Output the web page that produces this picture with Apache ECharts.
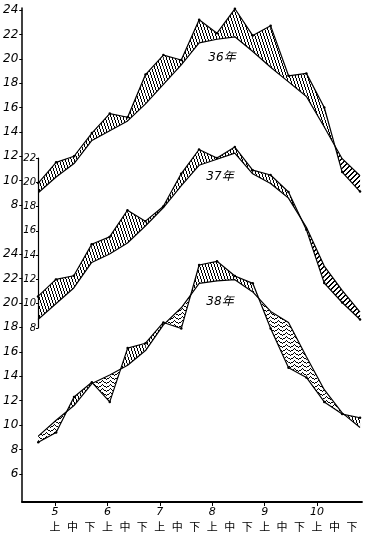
<!DOCTYPE html>
<html><head><meta charset="utf-8">
<script src="https://cdn.jsdelivr.net/npm/echarts@6/dist/echarts.min.js"></script>
<style>html,body{margin:0;padding:0;background:#fff}#c{width:367px;height:540px}</style>
</head><body><div id="c"></div>
<script>
// periods: 4月下旬 .. 10月下旬 (19 dekads)
const periods = ['4下','5上','5中','5下','6上','6中','6下','7上','7中','7下','8上','8中','8下','9上','9中','9下','10上','10中','10下'];
const monthLabels = ['5','6','7','8','9','10'];
const dekadLabels = ['上','中','下'];
const yearNames = ['36年','37年','38年'];

// 36年
const y36Year   = [9.8, 11.5, 12.0, 13.9, 15.5, 15.2, 18.7, 20.3, 19.9, 23.2, 22.1, 24.1, 21.9, 22.7, 18.6, 18.8, 16.0, 10.7, 9.1];
const y36Normal = [9.0, 10.3, 11.4, 13.3, 14.1, 14.9, 16.3, 17.9, 19.5, 21.3, 21.6, 21.8, 20.6, 19.3, 18.1, 16.9, 14.4, 11.8, 10.4];
// 37年
const y37Year   = [10.6, 12.0, 12.3, 14.9, 15.5, 17.7, 16.8, 18.0, 20.7, 22.7, 22.0, 22.9, 21.0, 20.6, 19.2, 16.1, 11.7, 10.1, 8.7];
const y37Normal = [8.7, 10.0, 11.3, 13.4, 14.1, 15.0, 16.4, 17.9, 19.7, 21.4, 21.9, 22.4, 20.7, 19.9, 18.7, 16.3, 13.1, 11.1, 9.3];
// 38年
const y38Year   = [8.6, 9.4, 12.3, 13.5, 11.9, 16.3, 16.7, 18.4, 17.9, 23.1, 23.4, 22.2, 21.6, 17.9, 14.7, 13.9, 11.9, 10.9, 10.6];
const y38Normal = [9.1, 10.4, 11.6, 13.4, 14.1, 14.9, 16.1, 18.2, 19.6, 21.6, 21.8, 21.9, 20.9, 19.3, 18.4, 15.6, 12.9, 11.0, 9.8];

const FONT = "'DejaVu Sans', 'Noto Sans CJK JP', sans-serif";

function makeCanvas(w, h, draw) {
  const c = document.createElement('canvas');
  c.width = w; c.height = h;
  const g = c.getContext('2d');
  g.fillStyle = '#000';
  draw(g);
  return c;
}
// above normal: dense steep hatching
const patPos = { image: makeCanvas(3, 9, g => { for (let y = 0; y < 9; y++) g.fillRect(Math.floor(y / 3), y, 1, 1); }), repeat: 'repeat' };
// below normal (36, 37): diagonal hatching
const patDiag = { image: makeCanvas(5, 5, g => { for (let k = 0; k < 5; k++) { g.fillRect(k, 4 - k, 1, 1); g.fillRect((k + 1) % 5, 4 - k, 1, 1); } }), repeat: 'repeat' };
// below normal (38): wavy hatching
const patWave = { image: makeCanvas(8, 4, g => { for (let x = 0; x < 8; x++) { const y = Math.round(1.5 + 1.1 * Math.sin(2 * Math.PI * x / 8)); g.fillRect(x, y, 1, 1); } }), repeat: 'repeat' };

function bandSeries(xi, yi, yearArr, normArr, negPat) {
  const data = [];
  for (let i = 0; i < yearArr.length - 1; i++) data.push([i, yearArr[i], normArr[i], yearArr[i + 1], normArr[i + 1]]);
  return {
    type: 'custom', xAxisIndex: xi, yAxisIndex: yi, data, silent: true, z: 1,
    encode: { x: 0, y: [1, 2, 3, 4] },
    renderItem(params, api) {
      const i = api.value(0), a0 = api.value(1), b0 = api.value(2), a1 = api.value(3), b1 = api.value(4);
      const A0 = api.coord([i, a0]), B0 = api.coord([i, b0]), A1 = api.coord([i + 1, a1]), B1 = api.coord([i + 1, b1]);
      const d0 = a0 - b0, d1 = a1 - b1;
      const pat = d => d >= 0 ? patPos : negPat;
      const poly = (pts, p) => ({ type: 'polygon', shape: { points: pts }, style: { fill: p, stroke: null } });
      let children;
      if (d0 * d1 >= 0) children = [poly([A0, A1, B1, B0], pat(d0 + d1))];
      else {
        const t = d0 / (d0 - d1);
        const C = api.coord([i + t, a0 + t * (a1 - a0)]);
        children = [poly([A0, C, B0], pat(d0)), poly([C, A1, B1], pat(d1))];
      }
      return { type: 'group', children };
    }
  };
}
function lineSeries(xi, yi, arr, sym) {
  return {
    type: 'line', xAxisIndex: xi, yAxisIndex: yi, data: arr.map((v, i) => [i, v]),
    showSymbol: sym, symbol: 'circle', symbolSize: 2.5, itemStyle: { color: '#000' },
    lineStyle: { color: '#000', width: 1.2 }, clip: false, silent: true, z: 3
  };
}
const hiddenX = (gi, min, max) => ({ type: 'value', gridIndex: gi, min, max, show: false });
const yLab = (size) => ({ fontStyle: 'italic', fontFamily: FONT, fontSize: size, color: '#000' });

const option = {
  animation: false,
  backgroundColor: '#fff',
  grid: [
    { left: 22, top: 8, width: 340, height: 494 },   // frame + time axis
    { left: 22, top: 10, width: 340, height: 195 },  // 36年
    { left: 38, top: 158, width: 324, height: 170 }, // 37年
    { left: 22, top: 254, width: 340, height: 220 }  // 38年
  ],
  xAxis: [
    { type: 'value', gridIndex: 0, min: -1.889, max: 17.573, position: 'bottom',
      axisLine: { show: true, onZero: false, lineStyle: { color: '#000', width: 1.8 } },
      axisTick: { show: true, length: 4, customValues: [0, 3, 6, 9, 12, 15], lineStyle: { color: '#000', width: 1 } },
      axisLabel: { show: true, margin: 5, customValues: [0, 3, 6, 9, 12, 15],
        formatter: v => monthLabels[Math.round(v / 3)], fontStyle: 'italic', fontFamily: FONT, fontSize: 11, color: '#000' },
      splitLine: { show: false } },
    { type: 'value', gridIndex: 0, min: -1.889, max: 17.573, position: 'bottom',
      axisLine: { show: false, onZero: false }, axisTick: { show: false }, splitLine: { show: false },
      axisLabel: { show: true, margin: 19, customValues: [0,1,2,3,4,5,6,7,8,9,10,11,12,13,14,15,16,17],
        formatter: v => dekadLabels[Math.round(v) % 3], fontFamily: "'Noto Sans CJK JP', sans-serif", fontSize: 11, color: '#000' } },
    hiddenX(1, -0.894, 18.11),
    hiddenX(2, 0, 18.11),
    hiddenX(3, -0.894, 18.11)
  ],
  yAxis: [
    { type: 'value', gridIndex: 0, min: 0, max: 1, position: 'left', axisLine: { show: true, onZero: false, lineStyle: { color: '#000', width: 1.5 } },
      axisTick: { show: false }, axisLabel: { show: false }, splitLine: { show: false } },
    { type: 'value', gridIndex: 1, min: 8, max: 24, interval: 2, position: 'left', axisLine: { show: false, onZero: false },
      axisTick: { show: true, length: 3, lineStyle: { color: '#000' } }, axisLabel: Object.assign({ margin: 4 }, yLab(12)), splitLine: { show: false } },
    { type: 'value', gridIndex: 2, min: 8, max: 22, interval: 2, position: 'left', axisLine: { show: true, onZero: false, lineStyle: { color: '#000', width: 1.2 } },
      axisTick: { show: true, length: 2, lineStyle: { color: '#000' } }, axisLabel: Object.assign({ margin: 2 }, yLab(10)), splitLine: { show: false } },
    { type: 'value', gridIndex: 3, min: 6, max: 24, interval: 2, position: 'left', axisLine: { show: false, onZero: false },
      axisTick: { show: true, length: 3, lineStyle: { color: '#000' } }, axisLabel: Object.assign({ margin: 4 }, yLab(12)), splitLine: { show: false } }
  ],
  graphic: [
    { type: 'text', x: 222, y: 58, style: { text: yearNames[0], font: "italic 12px " + FONT, fill: '#000', align: 'center', verticalAlign: 'middle' } },
    { type: 'text', x: 220, y: 177, style: { text: yearNames[1], font: "italic 12px " + FONT, fill: '#000', align: 'center', verticalAlign: 'middle' } },
    { type: 'text', x: 220, y: 302, style: { text: yearNames[2], font: "italic 12px " + FONT, fill: '#000', align: 'center', verticalAlign: 'middle' } }
  ],
  series: [
    bandSeries(2, 1, y36Year, y36Normal, patDiag),
    lineSeries(2, 1, y36Year, true), lineSeries(2, 1, y36Normal, false),
    bandSeries(3, 2, y37Year, y37Normal, patDiag),
    lineSeries(3, 2, y37Year, true), lineSeries(3, 2, y37Normal, false),
    bandSeries(4, 3, y38Year, y38Normal, patWave),
    lineSeries(4, 3, y38Year, true), lineSeries(4, 3, y38Normal, false)
  ]
};
echarts.init(document.getElementById('c')).setOption(option);
</script></body></html>
